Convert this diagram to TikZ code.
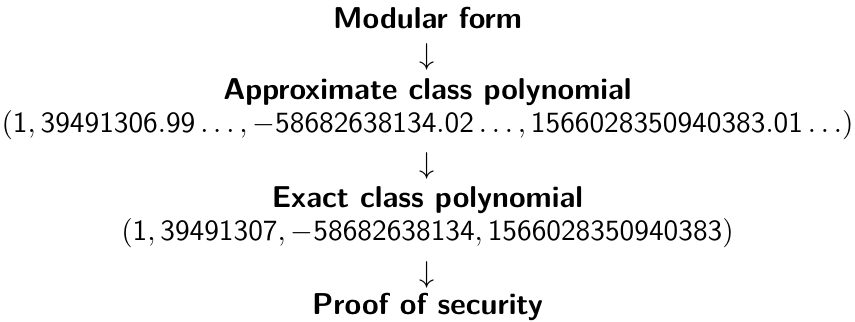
\documentclass[tikz,border=0pt]{standalone}
\begin{document}
\begin{tikzpicture}[x=0.3315pt,y=-0.3315pt,
  every node/.style={inner sep=0pt,outer sep=0pt,anchor=base,font=\sffamily},
  head/.style={font=\sffamily\bfseries},
  arrowglyph/.style={}]
\useasboundingbox (0,0) rectangle (855,322);
% both coefficient vectors share one size, slightly reduced to fit the width
\newcommand\tuplebox[1]{\scalebox{0.972}{$#1$}}
\node[head] (mf) at (427.5,29) {Modular form};
\node[arrowglyph] (a1) at (427.5,65) {$\downarrow$};
\node[head] (acp) at (427.5,100) {Approximate class polynomial};
\node (at) at (427.5,133) {\tuplebox{(\mathsf{1},\mathsf{39491306.99}\ldots,-\mathsf{58682638134.02}\ldots,\mathsf{1566028350940383.01}\ldots)}};
\node[arrowglyph] (a2) at (427.5,174) {$\downarrow$};
\node[head] (ecp) at (427.5,208) {Exact class polynomial};
\node (et) at (427.5,241) {\tuplebox{(\mathsf{1},\mathsf{39491307},-\mathsf{58682638134},\mathsf{1566028350940383})}};
\node[arrowglyph] (a3) at (427.5,283) {$\downarrow$};
\node[head] (ps) at (427.5,315) {Proof of security};
\end{tikzpicture}
\end{document}
